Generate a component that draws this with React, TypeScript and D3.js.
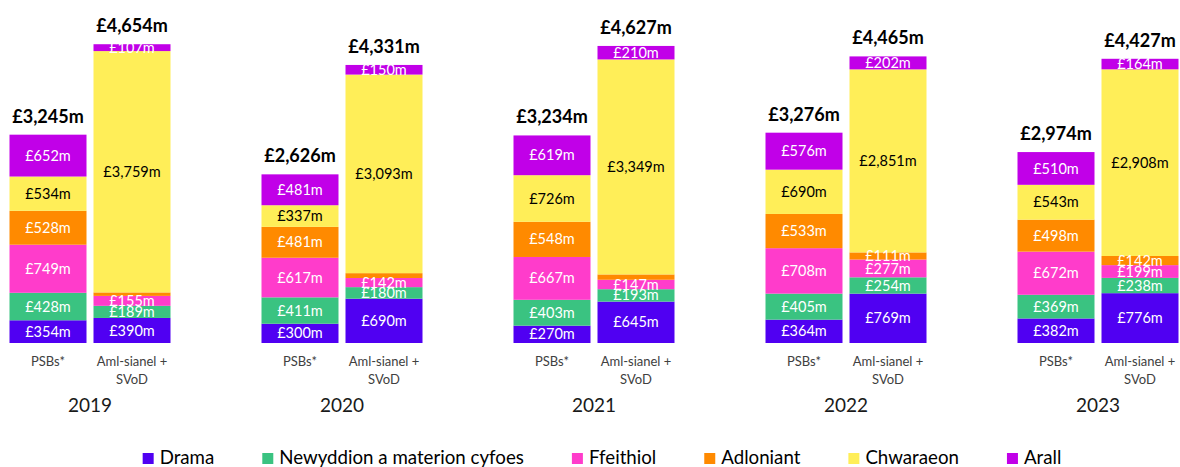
import React, { useEffect, useRef } from 'react';
import * as d3 from 'd3';

const years = ['2019', '2020', '2021', '2022', '2023'];
const categories = ['PSBs*', 'Aml-sianel + SVoD'];
const categoryLines = [['PSBs*'], ['Aml-sianel +', 'SVoD']];
const genres = ['Drama', 'Newyddion a materion cyfoes', 'Ffeithiol', 'Adloniant', 'Chwaraeon', 'Arall'];
const colors = ['#5000F2', '#3AC381', '#FF3CCB', '#FF8A00', '#FFEE58', '#C100E8'];
const labelColors = ['#fff', '#fff', '#fff', '#fff', '#000', '#fff'];

// PSBs* values per genre, by year
const psbDrama = [354, 300, 270, 364, 382];
const psbNews = [428, 411, 403, 405, 369];
const psbFactual = [749, 617, 667, 708, 672];
const psbEntertainment = [528, 481, 548, 533, 498];
const psbSport = [534, 337, 726, 690, 543];
const psbOther = [652, 481, 619, 576, 510];
const psbTotals = [3245, 2626, 3234, 3276, 2974];

// Aml-sianel + SVoD values per genre, by year
const amlDrama = [390, 690, 645, 769, 776];
const amlNews = [189, 180, 193, 254, 238];
const amlFactual = [155, 142, 147, 277, 199];
const amlEntertainment = [54, 76, 83, 111, 142];
const amlSport = [3759, 3093, 3349, 2851, 2908];
const amlOther = [107, 150, 210, 202, 164];
const amlTotals = [4654, 4331, 4627, 4465, 4427];

const seriesByCategory = [
  [psbDrama, psbNews, psbFactual, psbEntertainment, psbSport, psbOther],
  [amlDrama, amlNews, amlFactual, amlEntertainment, amlSport, amlOther],
];
const totalsByCategory = [psbTotals, amlTotals];

const FONT = 'Lato, "Open Sans", sans-serif';
const W = 1180;
const H = 467;

export default function App() {
  const legendRef = useRef<SVGGElement>(null);

  const x0 = d3.scaleBand<string>().domain(years).range([-36, 1224]).paddingInner(91 / 252).paddingOuter(91 / 504);
  const x1 = d3.scaleBand<string>().domain(categories).range([0, x0.bandwidth()]).paddingInner(7 / 84);
  const y = d3.scaleLinear().domain([0, 5000]).range([343, 22]);
  const fmt = (v: number) => '£' + d3.format(',')(v) + 'm';

  useEffect(() => {
    const g = d3.select(legendRef.current);
    g.selectAll('*').remove();
    const items = g.selectAll('g.item').data(genres).join('g').attr('class', 'item');
    items.append('rect').attr('width', 11).attr('height', 11).attr('y', -11).attr('fill', (_, i) => colors[i]);
    items
      .append('text')
      .attr('x', 17)
      .attr('y', 0)
      .attr('font-family', FONT)
      .attr('font-size', 18.7)
      .attr('fill', '#000')
      .text((d) => d);
    let xPos = 0;
    const positions: number[] = [];
    items.each(function () {
      positions.push(xPos);
      const t = d3.select(this).select('text').node() as SVGTextElement;
      xPos += 17 + t.getComputedTextLength() + 48;
    });
    const total = xPos - 48;
    const start = 602 - total / 2;
    items.attr('transform', (_, i) => `translate(${start + positions[i]},464)`);
  }, []);

  return (
    <svg width={W} height={H} style={{ display: 'block', position: 'absolute', left: 0, top: 0 }}>
      <rect width={W} height={H} fill="#fff" />
      {years.map((yr, yi) => (
        <g key={yr} transform={`translate(${x0(yr)},0)`}>
          {categories.map((cat, ci) => {
            const series = seriesByCategory[ci];
            let cum = 0;
            const segs = series.map((arr, gi) => {
              const v = arr[yi];
              const s = { gi, v, y0: cum, y1: cum + v };
              cum += v;
              return s;
            });
            const bx = x1(cat)!;
            const bw = x1.bandwidth();
            return (
              <g key={cat}>
                {segs.map((s) => (
                  <rect
                    key={'r' + s.gi}
                    x={bx}
                    width={bw}
                    y={y(s.y1)}
                    height={y(s.y0) - y(s.y1)}
                    fill={colors[s.gi]}
                  />
                ))}
                {segs
                  .filter((s) => s.v >= 100)
                  .map((s) => (
                    <text
                      key={'t' + s.gi}
                      x={bx + bw / 2}
                      y={(y(s.y0) + y(s.y1)) / 2}
                      dy="0.35em"
                      textAnchor="middle"
                      fontFamily={FONT}
                      fontSize={14.5}
                      fill={labelColors[s.gi]}
                    >
                      {fmt(s.v)}
                    </text>
                  ))}
                <text
                  x={bx + bw / 2}
                  y={y(cum) - 12}
                  textAnchor="middle"
                  fontFamily={FONT}
                  fontWeight="bold"
                  fontSize={18}
                  fill="#000"
                >
                  {fmt(totalsByCategory[ci][yi])}
                </text>
                {categoryLines[ci].map((line, li) => (
                  <text
                    key={line}
                    x={bx + bw / 2}
                    y={366 + li * 18}
                    textAnchor="middle"
                    fontFamily={FONT}
                    fontSize={13}
                    fill="#404040"
                  >
                    {line}
                  </text>
                ))}
              </g>
            );
          })}
          <text
            x={x0.bandwidth() / 2}
            y={412}
            textAnchor="middle"
            fontFamily={FONT}
            fontSize={19}
            fill="#1a1a1a"
          >
            {yr}
          </text>
        </g>
      ))}
      <g ref={legendRef} />
    </svg>
  );
}
